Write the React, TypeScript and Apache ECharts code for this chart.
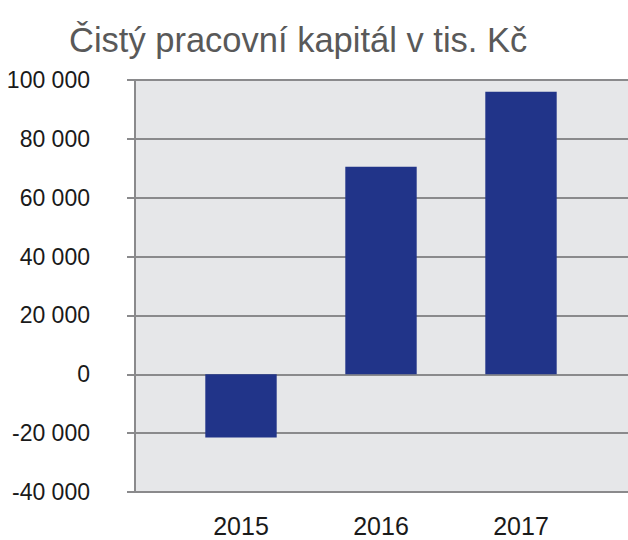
import React, { useEffect, useRef } from "react";
import * as echarts from "echarts";

const title = "Čistý pracovní kapitál v tis. Kč";
const categories = ["2015", "2016", "2017"];
const values = [-21500, 70500, 96000];
const yMin = -40000;
const yMax = 100000;
const yStep = 20000;

const fmt = (v: number) => {
  const s = Math.abs(v).toString().replace(/\B(?=(\d{3})+(?!\d))/g, " ");
  return (v < 0 ? "-" : "") + s;
};

export default function App() {
  const ref = useRef<HTMLDivElement>(null);
  useEffect(() => {
    if (!ref.current) return;
    const chart = echarts.init(ref.current, null, { renderer: "svg" });
    chart.setOption({
      animation: false,
      title: {
        text: title,
        left: 64,
        top: 17,
        textStyle: {
          fontFamily: "'Liberation Sans', Arial, sans-serif",
          fontSize: 34.5,
          fontWeight: "normal",
          color: "#595959",
        },
      },
      grid: [
        { left: 135, right: 0, top: 80, bottom: 48, show: true, backgroundColor: "#e6e7e9", borderWidth: 0 },
        { left: 171, right: 37, top: 80, bottom: 48 },
      ],
      xAxis: [
        { type: "value", gridIndex: 0, show: false, min: 0, max: 1 },
        {
          type: "category",
          gridIndex: 1,
          data: categories,
          axisLine: { show: false },
          axisTick: { show: false },
          axisLabel: {
            margin: 24,
            fontFamily: "'Liberation Sans', Arial, sans-serif",
            fontSize: 25,
            lineHeight: 20,
            color: "#1a1a1a",
          },
        },
      ],
      yAxis: [
        {
          type: "value",
          gridIndex: 0,
          min: yMin,
          max: yMax,
          interval: yStep,
          axisLine: { show: true, lineStyle: { color: "#8a8a8c", width: 2 } },
          axisTick: { show: true, length: 8, lineStyle: { color: "#8a8a8c", width: 2 } },
          splitLine: { show: true, lineStyle: { color: "#8a8a8c", width: 2 } },
          axisLabel: {
            margin: 45,
            formatter: (v: number) => fmt(v),
            fontFamily: "'Liberation Sans', Arial, sans-serif",
            fontSize: 23,
            color: "#1a1a1a",
          },
        },
        { type: "value", gridIndex: 1, min: yMin, max: yMax, show: false, splitLine: { show: false } },
      ],
      series: [
        {
          type: "bar",
          xAxisIndex: 1,
          yAxisIndex: 1,
          data: values,
          barWidth: "51%",
          itemStyle: { color: "#213489" },
        },
      ],
    });
    return () => chart.dispose();
  }, []);
  return <div ref={ref} style={{ width: 628, height: 540, position: "absolute", left: 0, top: 0 }} />;
}
